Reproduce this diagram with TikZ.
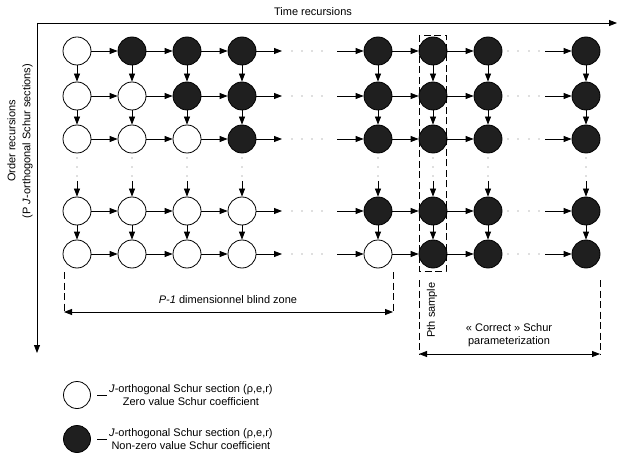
\documentclass[tikz,border=0pt]{standalone}
\usepackage{fontspec}
\setmainfont{Liberation Sans}
\usetikzlibrary{arrows.meta}
\begin{document}
\begin{tikzpicture}[x=1pt,y=-1pt,
  cell/.style={circle,draw=black,line width=0.8pt,minimum size=28pt,inner sep=0pt},
  wht/.style={cell,fill=white},
  blk/.style={cell,fill=black!88},
  arr/.style={line width=0.8pt,-{Triangle[length=8pt,width=6pt]}},
  darr/.style={line width=0.8pt,{Triangle[length=8pt,width=6pt]}-{Triangle[length=8pt,width=6pt]}},
  dsh/.style={line width=0.8pt,dash pattern=on 7pt off 3.5pt},
  dotm/.style={fill=black!55},
  lbl/.style={font=\fontsize{11}{13}\selectfont,inner sep=0pt,align=center}]
\useasboundingbox (0,0) rectangle (620,454);
% axes
\coordinate (o) at (37,23);
\coordinate (tx) at (617,23);
\coordinate (ty) at (37,353);
\draw[arr] (o) -- (tx);
\draw[arr] (o) -- (ty);
\node[lbl] (tlab) at (313,12) {Time recursions};
\node[lbl,rotate=90,font=\fontsize{11}{15}\selectfont] (olab) at (20,141) {Order recursions\\(P \textit{J}-orthogonal Schur sections)};
% cells
\foreach \r/\y in {1/51,2/96,3/139,4/211,5/254} {
  \foreach \c/\x in {1/77,2/132,3/187,4/242,5/378,6/433,7/488,8/586} {
    \pgfmathtruncatemacro\blkq{\c>\r}
    \ifnum\blkq=1 \node[blk] (n\r\c) at (\x,\y) {}; \else \node[wht] (n\r\c) at (\x,\y) {}; \fi
  }
}
% horizontal connectors
\foreach \r/\y in {1/51,2/96,3/139,4/211,5/254} {
  \foreach \a/\b in {1/2,2/3,3/4,5/6,6/7} { \draw[arr] (n\r\a) -- (n\r\b); }
  \coordinate (ha\r) at (282,\y);
  \coordinate (hb\r) at (337,\y);
  \coordinate (hd\r) at (545,\y);
  \draw[arr] (n\r4) -- (ha\r);
  \draw[arr] (hb\r) -- (n\r5);
  \draw[arr] (hd\r) -- (n\r8);
  \foreach \dx in {292,302,312,322,508,518,529,539} { \fill[dotm] (\dx,\y) circle (0.7pt); }
}
% vertical connectors
\foreach \c/\x in {1/77,2/132,3/187,4/242,5/378,6/433,7/488,8/586} {
  \draw[arr] (n1\c) -- (n2\c);
  \draw[arr] (n2\c) -- (n3\c);
  \draw[arr] (n4\c) -- (n5\c);
  \coordinate (v\c) at (\x,181);
  \draw[arr] (v\c) -- (n4\c);
  \foreach \dy in {158,167,176} { \fill[dotm] (\x,\dy) circle (0.7pt); }
}
% Pth sample
\draw[dsh] (419,35) rectangle (446,271);
\node[lbl,rotate=90] (pth) at (432,310) {Pth sample};
% blind zone
\coordinate (bl1) at (64,272);
\coordinate (bl2) at (64,312);
\coordinate (br1) at (393,272);
\coordinate (br2) at (393,312);
\draw[dsh] (bl1) -- (bl2);
\draw[dsh] (br1) -- (br2);
\draw[darr] (bl2) -- (br2);
\node[lbl] (blind) at (228,300) {\textit{P-1} dimensionnel blind zone};
% correct parameterization
\coordinate (cl1) at (419,280);
\coordinate (cl2) at (419,354);
\coordinate (cr1) at (600,280);
\coordinate (cr2) at (600,354);
\draw[dsh] (cl1) -- (cl2);
\draw[dsh] (cr1) -- (cr2);
\draw[darr] (cl2) -- (cr2);
\node[lbl] (corr) at (509,335) {« Correct » Schur\\parameterization};
% legend
\node[wht,minimum size=27pt] (lw) at (77,395) {};
\node[blk,minimum size=27pt] (lb) at (77,439) {};
\draw[line width=0.8pt] (97,395) -- (107,395);
\draw[line width=0.8pt] (97,439) -- (107,439);
\node[lbl,anchor=west] (lwt) at (109,395) {\textit{J}-orthogonal Schur section (ρ,e,r)\\Zero value Schur coefficient};
\node[lbl,anchor=west] (lbt) at (109,439) {\textit{J}-orthogonal Schur section (ρ,e,r)\\Non-zero value Schur coefficient};
\end{tikzpicture}
\end{document}
